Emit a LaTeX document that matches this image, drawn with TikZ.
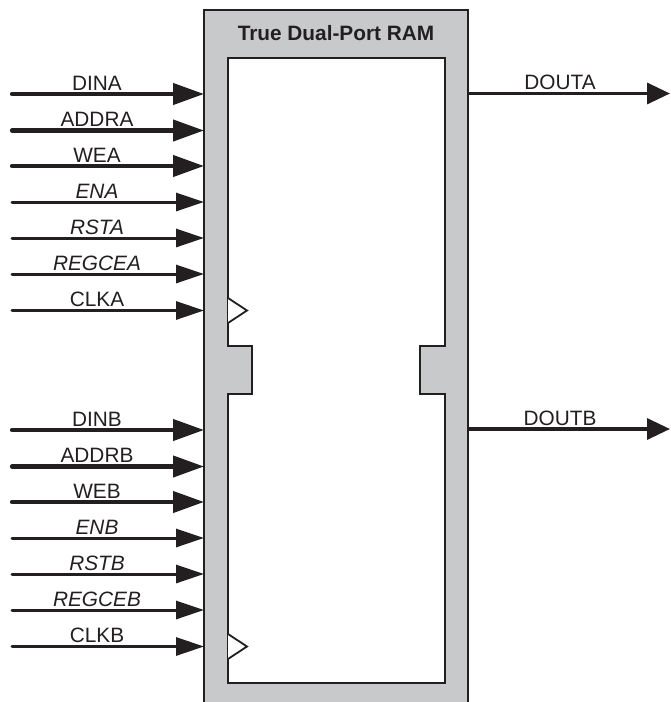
\documentclass[tikz,border=0pt]{standalone}
\usepackage{fontspec}
\setmainfont{Liberation Sans}
\usetikzlibrary{arrows.meta}
\definecolor{boxgray}{RGB}{200,201,203}
\definecolor{ink}{RGB}{35,31,32}
\tikzset{
  thickarrow/.style={line width=4.2pt, draw=ink, line cap=round, -{Triangle[length=31pt,width=21pt]}},
  thinarrow/.style={line width=3pt, draw=ink, line cap=round, -{Triangle[length=28pt,width=18pt]}},
  outarrow/.style={line width=3.4pt, draw=ink, -{Triangle[length=23pt,width=21pt]}},
  sig/.style={anchor=base, font=\fontsize{20.8}{24}\selectfont, text=ink, inner sep=0pt},
  isig/.style={sig, font=\fontsize{20.8}{24}\selectfont\itshape},
  border/.style={draw=ink, line width=2.8pt},
  clk/.style={draw=ink, line width=1.8pt, fill=white, line join=miter},
}
\begin{document}
\begin{tikzpicture}[x=1pt,y=-1pt]
\useasboundingbox (0,0) rectangle (670,702);
% outer grey body
\fill[boxgray] (204,10) rectangle (468,702);
\draw[border] (204,702) -- (204,10) -- (468,10) -- (468,702);
% inner white area with notches
\draw[border, fill=white] (228,58) -- (445,58) -- (445,346) -- (420,346) -- (420,394) -- (445,394)
  -- (445,683) -- (228,683) -- (228,394) -- (252,394) -- (252,346) -- (228,346) -- cycle;
\node[sig, font=\fontsize{20.8}{24}\selectfont\bfseries] (title) at (336,40) {True Dual-Port RAM};
% clock triangles
\draw[clk] (228,298) -- (247,310.5) -- (228,323);
\draw[clk] (228,634) -- (247,646.5) -- (228,659);
% input ports
\foreach \y/\n/\s/\f in {94/DINA/thickarrow/sig, 130.5/ADDRA/thickarrow/sig, 166/WEA/thickarrow/sig,
  202/ENA/thinarrow/isig, 238/RSTA/thinarrow/isig, 274/REGCEA/thinarrow/isig, 310.5/CLKA/thinarrow/sig,
  430/DINB/thickarrow/sig, 466.5/ADDRB/thickarrow/sig, 502/WEB/thickarrow/sig,
  538/ENB/thinarrow/isig, 574/RSTB/thinarrow/isig, 610/REGCEB/thinarrow/isig, 646.5/CLKB/thinarrow/sig}{
  \coordinate (s\n) at (12,\y);
  \coordinate (p\n) at (204,\y);
  \draw[\s] (s\n) -- (p\n);
  \node[\f] (l\n) at (97,\y-4) {\n};
}
% output ports
\foreach \y/\n in {93.5/DOUTA, 429/DOUTB}{
  \coordinate (p\n) at (468,\y);
  \coordinate (e\n) at (670,\y);
  \draw[outarrow] (p\n) -- (e\n);
  \node[sig] (l\n) at (560,\y-4) {\n};
}
\end{tikzpicture}
\end{document}
